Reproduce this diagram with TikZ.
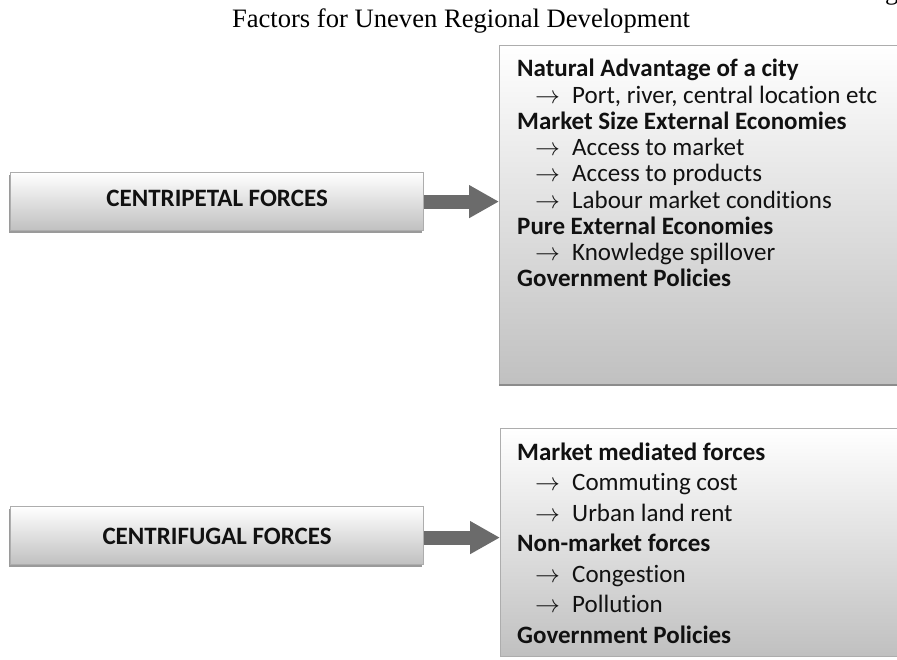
\documentclass[tikz,border=0pt]{standalone}
\usepackage{fontspec}
\setmainfont[Ligatures=NoCommon]{Carlito}
\newfontfamily\titlefont{Liberation Serif}
\usetikzlibrary{arrows.meta}

\definecolor{boxline}{HTML}{ADADAD}
\definecolor{boxlow}{HTML}{C0C0C0}
\definecolor{boxshadow}{HTML}{9A9A9A}
\definecolor{arrowgray}{HTML}{6B6B6B}
\definecolor{shadowgray}{HTML}{8C8C8C}
\definecolor{ink}{HTML}{111111}

\newcommand{\itemarrow}{\makebox[37pt][l]{$\rightarrow$}}

\begin{document}
\begin{tikzpicture}[x=1pt,y=-1pt,
  forcebox/.style={draw=boxline, line width=1.2pt, top color=white, bottom color=boxlow,
    minimum width=413pt, minimum height=58pt, inner sep=0pt, anchor=north west,
    preaction={fill=boxshadow, transform canvas={xshift=-1.5pt, yshift=-2pt}}},
  listbox/.style={draw=boxline, line width=1.2pt, top color=white, bottom color=boxlow,
    minimum width=406pt, inner sep=0pt, anchor=north west},
  forcelabel/.style={inner sep=0pt, text=ink, font=\fontsize{25}{30}\selectfont\bfseries},
  listline/.style={anchor=base west, inner sep=0pt, text=ink, text height=17pt, text depth=5pt},
  hd/.style={listline, font=\fontsize{25}{30}\selectfont\bfseries},
  it/.style={listline, font=\fontsize{25}{30}\selectfont},
  bigarrow/.style={arrowgray, line width=14pt, line cap=butt,
    -{Triangle[length=30pt, width=31pt]}}
]
\useasboundingbox (0,0) rectangle (897,660);

% heading
\node[anchor=base, inner sep=0pt] (ttl) at (461,28)
  {\titlefont\fontsize{26.6}{30}\selectfont Factors for Uneven Regional Development};
\node[anchor=base west, inner sep=0pt] (gfrag) at (885,0)
  {\titlefont\fontsize{26.6}{30}\selectfont g};

% the two force boxes on the left
\node[forcebox] (cp) at (10,172) {};
\node[forcelabel] (cptext) at ([yshift=3pt]cp.center) {CENTRIPETAL FORCES};
\node[forcebox] (cf) at (10,506) {};
\node[forcelabel] (cftext) at ([yshift=-1pt]cf.center) {CENTRIFUGAL FORCES};

% the two list boxes on the right
\node[listbox, minimum height=340pt] (rcp) at (499,45) {};
\draw[shadowgray, line width=2.5pt] ([yshift=1pt]rcp.south west) -- ([yshift=1pt]rcp.south east);
\node[listbox, minimum height=228pt] (rcf) at (500,428) {};

% connectors
\draw[bigarrow] (cp.east) -- (cp.east -| rcp.west);
\draw[bigarrow] ([yshift=-2pt]cf.east) -- ([yshift=-2pt]cf.east -| rcf.west);

% centripetal factors
\foreach \n/\x/\y/\k/\t in {
  1/517/77/hd/{Natural Advantage of a city},
  2/535/103.25/it/{\itemarrow Port, river, central location etc},
  3/517/129.5/hd/{Market Size External Economies},
  4/535/155.75/it/{\itemarrow Access to market},
  5/535/182/it/{\itemarrow Access to products},
  6/535/208.25/it/{\itemarrow Labour market conditions},
  7/517/234.5/hd/{Pure External Economies},
  8/535/260.75/it/{\itemarrow Knowledge spillover},
  9/517/287/hd/{Government Policies}}
  \node[\k] (cpl\n) at (\x,\y) {\t};

% centrifugal factors
\foreach \n/\x/\y/\k/\t in {
  1/517/460/hd/{Market mediated forces},
  2/535/490.5/it/{\itemarrow Commuting cost},
  3/535/521/it/{\itemarrow Urban land rent},
  4/517/551.5/hd/{Non-market forces},
  5/535/582/it/{\itemarrow Congestion},
  6/535/612.5/it/{\itemarrow Pollution},
  7/517/643/hd/{Government Policies}}
  \node[\k] (cfl\n) at (\x,\y) {\t};
\end{tikzpicture}
\end{document}
